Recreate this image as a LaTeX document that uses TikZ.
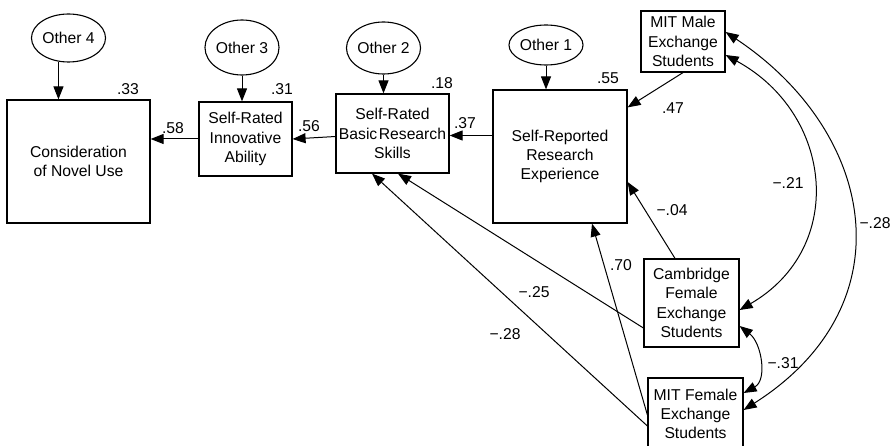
\documentclass[tikz,border=0pt]{standalone}
\usepackage{fontspec}
\setmainfont{Liberation Sans}
\usetikzlibrary{arrows.meta,shapes.geometric,calc}
\begin{document}
\begin{tikzpicture}[x=1pt,y=-1pt,
  font=\fontsize{15.7}{19.3}\selectfont,
  box/.style={draw,line width=1.2pt,inner sep=0pt,align=center},
  latent/.style={draw,ellipse,line width=1.1pt,inner sep=0pt},
  lbl/.style={inner sep=0pt},
  tip/.tip={Triangle[length=13pt,width=10pt]},
  path/.style={line width=1pt,-tip},
  cov/.style={line width=1pt,tip-tip}]
\useasboundingbox (0,0) rectangle (896,446);

% observed variables
\node[box,minimum width=143pt,minimum height=123pt] (cons) at (78.5,161.5) {Consideration\\of Novel Use};
\node[box,minimum width=93pt,minimum height=74pt] (innov) at (245.5,139) {Self-Rated\\Innovative\\Ability};
\node[box,minimum width=113pt,minimum height=79pt] (basic) at (392.5,133.5) {Self-Rated\\Basic\hspace{1.5pt}Research\\Skills};
\node[box,minimum width=134pt,minimum height=133pt] (exp) at (560,156.5) {Self-Reported\\Research\\Experience};
\node[box,minimum width=84pt,minimum height=61pt] (male) at (683,41.5) {MIT Male\\Exchange\\Students};
\node[box,minimum width=95pt,minimum height=88pt] (camb) at (691.5,303) {Cambridge\\Female\\Exchange\\Students};
\node[box,minimum width=95pt,minimum height=72pt] (mitf) at (695.5,414) {MIT Female\\Exchange\\Students};

% error terms
\node[latent,minimum width=63pt,minimum height=48pt] (other4) at (68.5,38) {Other 4};
\node[latent,minimum width=70pt,minimum height=55pt] (other3) at (242,47.5) {Other 3};
\node[latent,minimum width=67pt,minimum height=52pt] (other2) at (383.5,48) {Other 2};
\node[latent,minimum width=74pt,minimum height=40pt] (other1) at (546,45) {Other 1};

% error paths
\draw[path] (other4.-113) -- (other4.-113 |- cons.north);
\draw[path] (other3.south) -- (other3.south |- innov.north);
\draw[path] (other2.south) -- (other2.south |- basic.north);
\draw[path] (other1.south) -- (other1.south |- exp.north);

% structural paths
\draw[path] (innov.west) -- (innov.west -| cons.east);
\draw[path] ($(basic.west)+(0,3)$) -- (innov.east);
\draw[path] ($(exp.west)+(0,-21)$) -- ($(basic.east)+(0,2)$);
\draw[path] (male.south) -- ($(exp.north east)+(0,18)$);
\draw[path] ($(camb.north)+(-16.5,0)$) -- ($(exp.east)+(0,25.5)$);
\draw[path] ($(camb.west)+(0,25)$) -- ($(basic.south)+(5.5,0)$);
\draw[path] ($(mitf.west)+(0,12)$) -- ($(basic.south)+(-20.5,0)$);
\draw[path] ($(mitf.west)+(0,1)$) -- ($(exp.south)+(32,0)$);

% covariances
\draw[cov] ($(male.east)+(0,13.5)$) .. controls +(108,59) and +(107,-62) .. ($(camb.east)+(0,7)$);
\draw[cov] ($(male.east)+(0,-9.5)$) .. controls +(150,100) and +(165,-105) .. ($(mitf.east)+(0,-4)$);
\draw[cov] ($(camb.east)+(0,23)$) .. controls +(22,17) and +(24,-13) .. ($(mitf.east)+(0,-21)$);

% coefficients
\node[lbl] (r33) at (128,89) {.33};
\node[lbl] (r31) at (282,89) {.31};
\node[lbl] (r18) at (442,83) {.18};
\node[lbl] (r55) at (608,78) {.55};
\node[lbl] (c58) at (173,128) {.58};
\node[lbl] (c56) at (309,126) {.56};
\node[lbl] (c37) at (465,123) {.37};
\node[lbl] (c47) at (673,108) {.47};
\node[lbl] (c04) at (672,210) {−.04};
\node[lbl] (c21) at (788,183) {−.21};
\node[lbl] (c28a) at (875,223) {−.28};
\node[lbl] (c70) at (621,265) {.70};
\node[lbl] (c25) at (534,292) {−.25};
\node[lbl] (c28b) at (505,334) {−.28};
\node[lbl] (c31) at (783,363) {−.31};
\end{tikzpicture}
\end{document}
